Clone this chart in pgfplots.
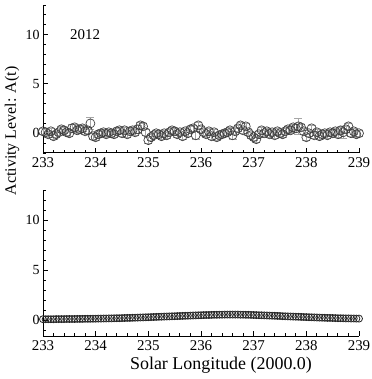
\documentclass[border=0pt]{standalone}
\usepackage{pgfplots}
\pgfplotsset{compat=1.18}
\usepackage{pgfplotstable}
\usepackage{fontspec}
\setmainfont{Liberation Serif}

\pgfplotstableread{
x y e
233.00 0.2 0.3
233.05 0.1 0.3
233.10 -0.1 0.3
233.15 0.2 0.3
233.20 -0.3 0.3
233.25 -0.1 0.3
233.30 0.1 0.3
233.35 0.4 0.3
233.40 0.3 0.3
233.45 0.1 0.3
233.50 0.0 0.3
233.55 0.5 0.4
233.60 0.6 0.3
233.65 0.3 0.3
233.70 0.4 0.3
233.75 0.5 0.3
233.80 0.2 0.3
233.85 0.3 0.3
233.90 1.0 0.6
233.95 -0.3 0.3
234.00 -0.4 0.3
234.05 -0.1 0.3
234.10 0.0 0.3
234.15 0.1 0.3
234.20 -0.1 0.3
234.25 0.1 0.3
234.30 0.0 0.3
234.35 -0.1 0.3
234.40 0.2 0.3
234.45 0.3 0.3
234.50 0.0 0.3
234.55 0.3 0.3
234.60 -0.1 0.3
234.65 0.2 0.3
234.70 0.3 0.3
234.75 0.1 0.3
234.80 0.4 0.4
234.85 0.8 0.3
234.90 0.7 0.3
234.95 0.1 0.3
235.00 -0.7 0.3
235.05 -0.4 0.3
235.10 -0.2 0.3
235.15 0.0 0.3
235.20 -0.1 0.3
235.25 -0.3 0.3
235.30 0.0 0.3
235.35 -0.2 0.3
235.40 0.1 0.3
235.45 0.3 0.3
235.50 0.2 0.3
235.55 -0.1 0.3
235.60 0.1 0.3
235.65 -0.3 0.3
235.70 0.2 0.3
235.75 0.0 0.3
235.80 0.4 0.3
235.85 0.5 0.3
235.90 -0.2 0.4
235.95 0.8 0.3
236.00 0.4 0.3
236.05 0.1 0.3
236.10 -0.1 0.3
236.15 0.2 0.3
236.20 -0.3 0.3
236.25 0.1 0.3
236.30 -0.4 0.3
236.35 -0.2 0.3
236.40 -0.1 0.3
236.45 0.0 0.3
236.50 0.1 0.3
236.55 0.3 0.3
236.60 -0.2 0.4
236.65 0.2 0.3
236.70 0.5 0.3
236.75 0.8 0.3
236.80 0.3 0.3
236.85 0.7 0.3
236.90 0.1 0.3
236.95 -0.2 0.3
237.00 -0.4 0.3
237.05 -0.6 0.3
237.10 -0.1 0.3
237.15 0.3 0.3
237.20 0.0 0.3
237.25 0.2 0.3
237.30 -0.1 0.3
237.35 0.1 0.3
237.40 -0.2 0.3
237.45 0.2 0.3
237.50 0.0 0.3
237.55 -0.1 0.3
237.60 0.2 0.3
237.65 0.4 0.3
237.70 0.3 0.3
237.75 0.6 0.3
237.80 0.5 0.4
237.85 0.7 0.8
237.90 0.6 0.3
237.95 0.2 0.3
238.00 -0.4 0.3
238.05 0.0 0.3
238.10 0.5 0.3
238.15 -0.2 0.3
238.20 0.1 0.3
238.25 -0.3 0.3
238.30 -0.1 0.3
238.35 0.0 0.3
238.40 -0.2 0.3
238.45 0.1 0.3
238.50 0.0 0.3
238.55 0.2 0.3
238.60 -0.1 0.3
238.65 0.3 0.3
238.70 0.1 0.6
238.75 0.4 0.3
238.80 0.7 0.3
238.85 0.0 0.3
238.90 0.2 0.3
238.95 -0.1 0.3
239.00 0.0 0.3
}\toptable

\pgfplotstableread{
x y
233.00 0.08
233.05 0.08
233.10 0.08
233.15 0.08
233.20 0.08
233.25 0.09
233.30 0.09
233.35 0.09
233.40 0.09
233.45 0.10
233.50 0.10
233.55 0.10
233.60 0.10
233.65 0.11
233.70 0.11
233.75 0.11
233.80 0.12
233.85 0.12
233.90 0.12
233.95 0.13
234.00 0.13
234.05 0.14
234.10 0.14
234.15 0.15
234.20 0.15
234.25 0.16
234.30 0.16
234.35 0.17
234.40 0.18
234.45 0.18
234.50 0.19
234.55 0.20
234.60 0.21
234.65 0.21
234.70 0.22
234.75 0.23
234.80 0.24
234.85 0.25
234.90 0.26
234.95 0.27
235.00 0.28
235.05 0.29
235.10 0.30
235.15 0.31
235.20 0.32
235.25 0.33
235.30 0.34
235.35 0.35
235.40 0.36
235.45 0.37
235.50 0.38
235.55 0.39
235.60 0.40
235.65 0.41
235.70 0.42
235.75 0.43
235.80 0.44
235.85 0.45
235.90 0.46
235.95 0.47
236.00 0.48
236.05 0.49
236.10 0.50
236.15 0.50
236.20 0.51
236.25 0.52
236.30 0.52
236.35 0.53
236.40 0.53
236.45 0.54
236.50 0.54
236.55 0.54
236.60 0.54
236.65 0.54
236.70 0.54
236.75 0.53
236.80 0.53
236.85 0.52
236.90 0.52
236.95 0.51
237.00 0.50
237.05 0.49
237.10 0.48
237.15 0.47
237.20 0.46
237.25 0.45
237.30 0.44
237.35 0.43
237.40 0.42
237.45 0.41
237.50 0.40
237.55 0.38
237.60 0.37
237.65 0.36
237.70 0.35
237.75 0.34
237.80 0.33
237.85 0.32
237.90 0.31
237.95 0.30
238.00 0.29
238.05 0.28
238.10 0.27
238.15 0.26
238.20 0.25
238.25 0.24
238.30 0.23
238.35 0.22
238.40 0.21
238.45 0.21
238.50 0.20
238.55 0.19
238.60 0.18
238.65 0.18
238.70 0.17
238.75 0.16
238.80 0.16
238.85 0.15
238.90 0.15
238.95 0.14
239.00 0.14
}\bottable

\pgfplotsset{
  panel/.style={
    scale only axis, width=316bp,
    xmin=233, xmax=239, ymax=13,
    axis x line=bottom, axis y line=left,
    axis line style={-, black, line width=1pt},
    xtick={233,234,...,239}, ytick={0,5,10},
    minor x tick num=4, minor ytick={-2,-1,...,13},
    tick align=inside,
    major tick length=5bp, minor tick length=3bp,
    tick style={black, line width=0.9pt},
    xticklabel style={font=\fontsize{15}{17}\selectfont, yshift=-1bp},
    yticklabel style={font=\fontsize{14}{16}\selectfont},
    /pgf/number format/assume math mode=true,
    /pgf/number format/1000 sep={},
    clip=false,
  }
}

\begin{document}
\begin{tikzpicture}[x=1bp,y=1bp]
\path[use as bounding box] (0,0) rectangle (372,379);
\begin{axis}[panel, ymin=-2, height=148bp, at={(43bp,226bp)}, anchor=south west]
\addplot[only marks, mark=o, mark size=4.5bp, black!75, mark options={fill=white, line width=0.7pt},
  error bars/.cd, y dir=both, y explicit, error mark options={rotate=90, mark size=4bp, black!35}, error bar style={black!35, line width=0.5pt}]
  table[x=x, y=y, y error=e] {\toptable};
\node[font=\fontsize{15}{17}\selectfont, anchor=west] at (axis cs:233.45,10) {2012};
\end{axis}
\begin{axis}[panel, ymin=-1.6, height=146bp, at={(43bp,43bp)}, anchor=south west]
\addplot[only marks, mark=o, mark size=3.5bp, black!85, mark options={fill=white, line width=0.8pt}]
  table[x=x, y=y] {\bottable};
\end{axis}
\node[rotate=90, font=\fontsize{16}{18}\selectfont] at (12,248) {Activity Level: A(t)};
\node[font=\fontsize{18}{20}\selectfont] at (221,14) {Solar Longitude (2000.0)};
\end{tikzpicture}
\end{document}
